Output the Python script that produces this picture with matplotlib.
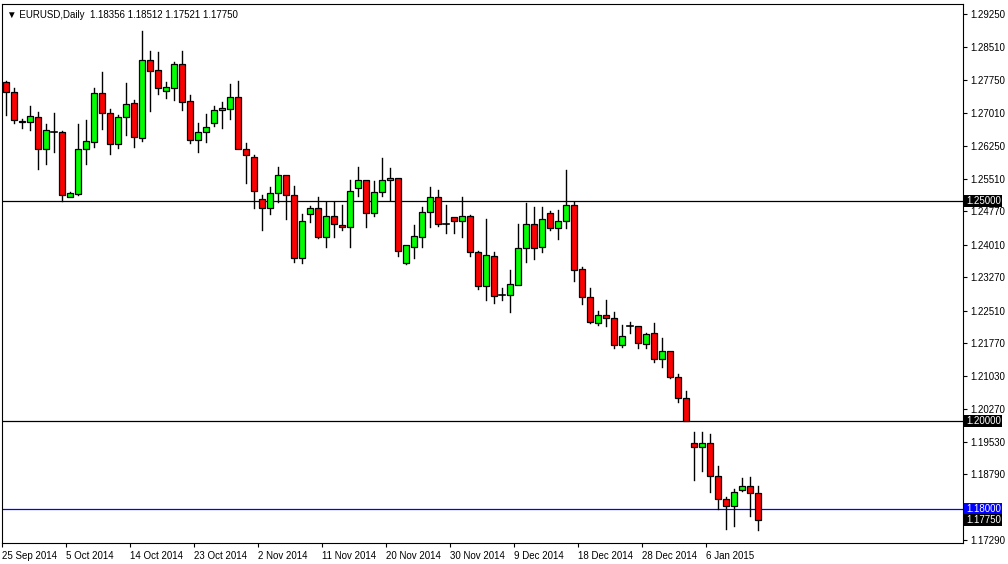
import matplotlib
matplotlib.use("Agg")
import matplotlib.pyplot as plt
import matplotlib.transforms as mtransforms

plt.rcParams['font.family'] = ['Liberation Sans', 'DejaVu Sans']

opens = [1.2771,1.2748,1.2680,1.2680,1.2691,1.2619,1.2657,1.2657,1.2510,1.2517,
         1.2619,1.2635,1.2746,1.2700,1.2630,1.2691,1.2723,1.2644,1.2821,1.2798,
         1.2750,1.2757,1.2812,1.2728,1.2639,1.2657,1.2678,1.2707,1.2710,1.2737,
         1.2619,1.2601,1.2505,1.2485,1.2519,1.2560,1.2514,1.2371,1.2471,1.2483,
         1.2419,1.2467,1.2446,1.2442,1.2530,1.2548,1.2473,1.2521,1.2548,1.2553,
         1.2360,1.2396,1.2419,1.2476,1.2510,1.2448,1.2464,1.2455,1.2467,1.2385,
         1.2306,1.2376,1.2287,1.2287,1.2310,1.2394,1.2448,1.2396,1.2473,1.2439,
         1.2455,1.2492,1.2346,1.2281,1.2222,1.2242,1.2233,1.2172,1.2217,1.2217,
         1.2176,1.2199,1.2140,1.2158,1.2101,1.2053,1.1951,1.1940,1.1949,1.1874,
         1.1822,1.1806,1.1843,1.1852,1.18356]
highs = [1.2773,1.2757,1.2687,1.2716,1.2703,1.2676,1.2700,1.2660,1.2521,1.2676,
         1.2685,1.2757,1.2794,1.2710,1.2696,1.2769,1.2730,1.2887,1.2841,1.2839,
         1.2771,1.2816,1.2841,1.2741,1.2678,1.2698,1.2716,1.2725,1.2766,1.2773,
         1.2632,1.2605,1.2514,1.2532,1.2578,1.2560,1.2535,1.2471,1.2489,1.2510,
         1.2498,1.2498,1.2492,1.2548,1.2578,1.2548,1.2546,1.2598,1.2576,1.2553,
         1.2399,1.2446,1.2487,1.2532,1.2526,1.2492,1.2464,1.2508,1.2469,1.2387,
         1.2458,1.2385,1.2303,1.2344,1.2448,1.2496,1.2487,1.2487,1.2478,1.2480,
         1.2571,1.2498,1.2349,1.2303,1.2249,1.2274,1.2247,1.2219,1.2226,1.2217,
         1.2199,1.2222,1.2188,1.2160,1.2106,1.2069,1.1976,1.1976,1.1970,1.1897,
         1.1827,1.1845,1.1870,1.1872,1.18512]
lows = [1.2696,1.2678,1.2666,1.2662,1.2573,1.2585,1.2612,1.2501,1.2508,1.2514,
        1.2585,1.2623,1.2664,1.2607,1.2621,1.2651,1.2623,1.2637,1.2705,1.2744,
        1.2735,1.2730,1.2707,1.2632,1.2612,1.2635,1.2671,1.2666,1.2687,1.2619,
        1.2542,1.2485,1.2433,1.2471,1.2498,1.2458,1.2362,1.2358,1.2453,1.2417,
        1.2396,1.2419,1.2433,1.2396,1.2512,1.2442,1.2467,1.2512,1.2503,1.2374,
        1.2356,1.2371,1.2396,1.2442,1.2444,1.2428,1.2428,1.2419,1.2376,1.2299,
        1.2276,1.2269,1.2274,1.2247,1.2308,1.2362,1.2369,1.2385,1.2435,1.2414,
        1.2439,1.2319,1.2267,1.2222,1.2219,1.2215,1.2165,1.2169,1.2201,1.2167,
        1.2167,1.2133,1.2122,1.2097,1.2044,1.1999,1.1865,1.1886,1.1838,1.1799,
        1.1754,1.1761,1.1840,1.1783,1.17521]
closes = [1.2748,1.2685,1.2681,1.2694,1.2619,1.2662,1.2657,1.2514,1.2519,1.2619,
          1.2637,1.2746,1.2700,1.2630,1.2691,1.2721,1.2646,1.2821,1.2796,1.2757,
          1.2759,1.2812,1.2725,1.2639,1.2657,1.2669,1.2707,1.2712,1.2737,1.2619,
          1.2605,1.2523,1.2485,1.2519,1.2560,1.2514,1.2371,1.2455,1.2483,1.2419,
          1.2467,1.2448,1.2442,1.2523,1.2548,1.2473,1.2521,1.2548,1.2553,1.2387,
          1.2399,1.2421,1.2476,1.2510,1.2448,1.2448,1.2455,1.2467,1.2385,1.2306,
          1.2378,1.2285,1.2287,1.2312,1.2394,1.2448,1.2394,1.2460,1.2439,1.2455,
          1.2492,1.2344,1.2281,1.2226,1.2242,1.2233,1.2172,1.2194,1.2217,1.2178,
          1.2197,1.2140,1.2158,1.2099,1.2053,1.1999,1.1940,1.1949,1.1874,1.1822,
          1.1806,1.1838,1.1852,1.1836,1.17750]

date_labels = ["25 Sep 2014","5 Oct 2014","14 Oct 2014","23 Oct 2014","2 Nov 2014",
               "11 Nov 2014","20 Nov 2014","30 Nov 2014","9 Dec 2014","18 Dec 2014",
               "28 Dec 2014","6 Jan 2015"]
date_idx = [0,8,16,24,32,40,48,56,64,72,80,88]
price_ticks = [1.29250,1.28510,1.27750,1.27010,1.26250,1.25510,1.24770,1.24010,
               1.23270,1.22510,1.21770,1.21030,1.20270,1.19530,1.18790,1.17290]
hlines = [1.25, 1.20, 1.18]
hline_colors = ["#000000", "#000000", "#0000FF"]
box_colors = ["#000000", "#000000", "#0000FF"]

fig = plt.figure(figsize=(10.08, 5.64), dpi=100)
ax = fig.add_axes([2/1008, 21/564, 961/1008, 539/564])
ax.set_xlim(-0.5, 119.6)
ax.set_ylim(1.17227, 1.29477)

w = 0.7
for i, (o, h, l, c) in enumerate(zip(opens, highs, lows, closes)):
    top, bot = max(o, c), min(o, c)
    ax.plot([i, i], [top, h], color="black", lw=1, zorder=2)
    ax.plot([i, i], [l, bot], color="black", lw=1, zorder=2)
    if abs(c - o) < 0.00005:
        ax.plot([i - w/2, i + w/2], [o, o], color="black", lw=1.2, zorder=3)
    else:
        col = "#00FF00" if c > o else "#FF0000"
        ax.add_patch(plt.Rectangle((i - w/2, bot), w, top - bot, facecolor=col,
                                   edgecolor="black", lw=0.9, zorder=3))

for y, col in zip(hlines, hline_colors):
    ax.axhline(y, color=col, lw=0.9, zorder=1)

ax.yaxis.tick_right()
ax.set_yticks(price_ticks)
ax.set_yticklabels([f"{p:.5f}" for p in price_ticks], fontsize=7)
ax.tick_params(axis="y", length=3, width=0.8, pad=2)
ax.set_xticks([i - 0.5 for i in date_idx])
ax.set_xticklabels(date_labels, fontsize=7, ha="left")
ax.tick_params(axis="x", length=3, width=0.8, pad=3)

trans = mtransforms.blended_transform_factory(ax.transAxes, ax.transData)
for y, col in zip(hlines + [closes[-1]], box_colors + ["#000000"]):
    ax.text(1.003, y, f"{y:.5f}", transform=trans, fontsize=7, color="white",
            va="center", ha="left",
            bbox=dict(boxstyle="square,pad=0.15", facecolor=col, edgecolor="none"))

ax.text(0.005, 0.988, "\u25bc EURUSD,Daily  1.18356 1.18512 1.17521 1.17750",
        transform=ax.transAxes, fontsize=7, va="top", ha="left")

fig.savefig("out.png", dpi=100)
